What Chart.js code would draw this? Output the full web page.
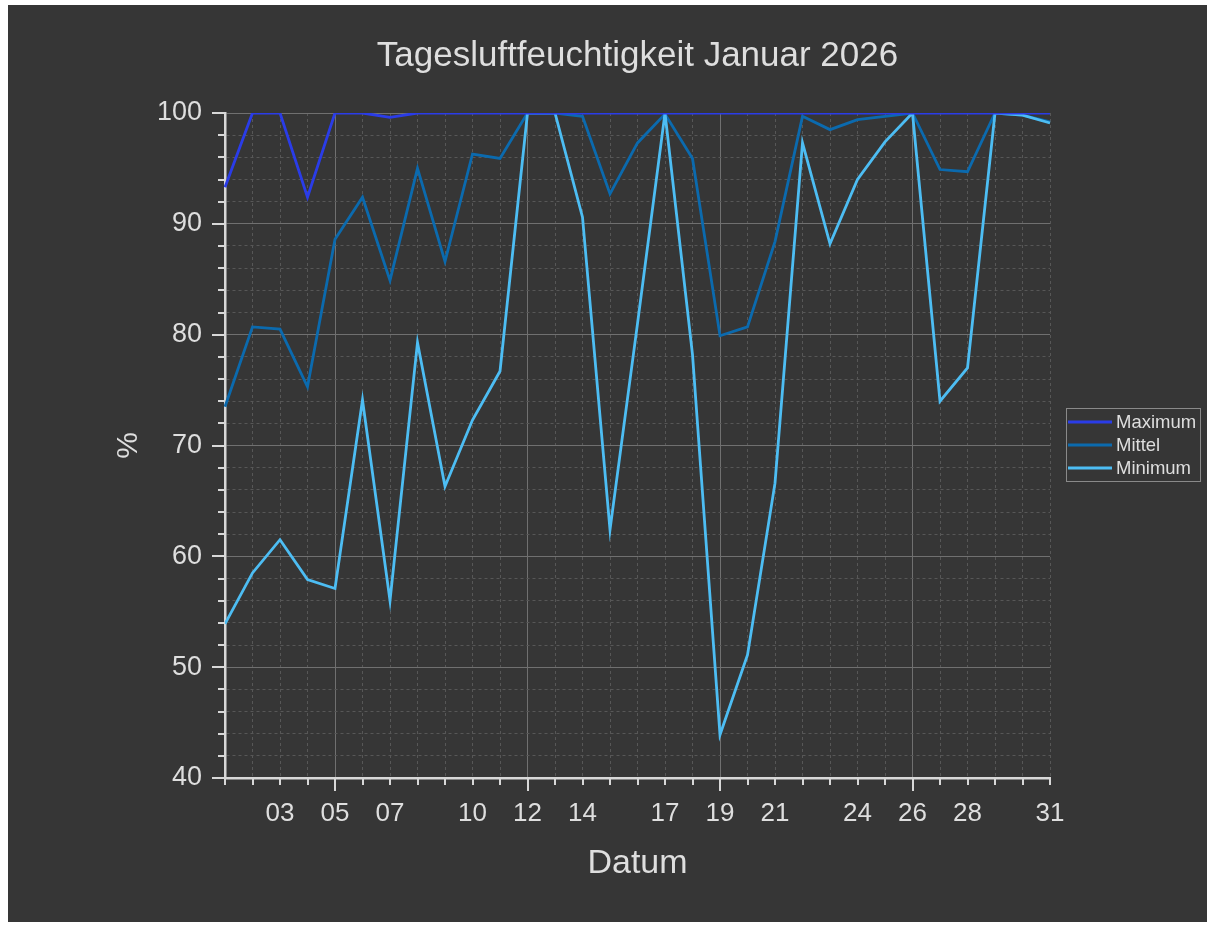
<!DOCTYPE html>
<html>
<head>
<meta charset="utf-8">
<script src="https://cdn.jsdelivr.net/npm/chart.js@4"></script>
<style>
  html, body { margin: 0; padding: 0; background: #ffffff; }
  #wrap { position: absolute; left: 8px; top: 5px; width: 1199px; height: 917px; background: #363636; }
</style>
</head>
<body>
<div id="wrap"><canvas id="humChart" width="1199" height="917"></canvas></div>
<script>
const days = ['01','02','03','04','05','06','07','08','09','10','11','12','13','14','15','16',
  '17','18','19','20','21','22','23','24','25','26','27','28','29','30','31'];
const shownDays = ['03','05','07','10','12','14','17','19','21','24','26','28','31'];
const majorDays = ['05','12','19','26'];

const maxData = [93.3, 100, 100, 92.4, 100, 100, 99.6, 100, 100, 100, 100, 100, 100, 100, 100, 100,
  100, 100, 100, 100, 100, 100, 100, 100, 100, 100, 100, 100, 100, 100, 100];
const meanData = [73.5, 80.7, 80.5, 75.3, 88.6, 92.4, 84.9, 95.0, 86.6, 96.3, 95.9, 100, 100, 99.7, 92.7, 97.3,
  99.9, 95.9, 79.9, 80.7, 88.4, 99.7, 98.5, 99.4, 99.7, 100, 94.9, 94.7, 100, 99.8, 99.2];
const minData = [53.9, 58.5, 61.5, 57.9, 57.1, 74.1, 56.0, 79.3, 66.3, 72.3, 76.7, 100, 100, 90.6, 62.4, 81.0,
  100, 78.2, 43.9, 51.1, 66.6, 97.3, 88.2, 94.0, 97.4, 100, 74.0, 77.0, 100, 99.8, 99.1];

const textColor = '#dedede';
const fontFam = '"Liberation Sans", Arial, sans-serif';

// tick marks (long for major, short for minor) + legend box
const extrasPlugin = {
  id: 'extras',
  afterDraw(chart) {
    const c = chart.ctx;
    const xs = chart.scales.x, ys = chart.scales.y;
    const area = chart.chartArea;
    c.save();
    c.strokeStyle = '#d8d8d8';
    c.lineWidth = 2;
    ys.ticks.forEach(t => {
      const py = Math.round(ys.getPixelForValue(t.value));
      const len = t.value % 10 === 0 ? 13 : 7;
      c.beginPath(); c.moveTo(area.left - len, py); c.lineTo(area.left, py); c.stroke();
    });
    days.forEach((d, i) => {
      const px = Math.round(xs.getPixelForTick(i));
      const len = majorDays.includes(d) ? 13 : 7;
      c.beginPath(); c.moveTo(px, area.bottom); c.lineTo(px, area.bottom + len); c.stroke();
    });

    // legend
    const bx = 1058, by = 403, bw = 134, bh = 73;
    c.strokeStyle = '#8a8a8a';
    c.lineWidth = 1;
    c.strokeRect(bx + 0.5, by + 0.5, bw, bh);
    c.font = '18.5px ' + fontFam;
    c.textBaseline = 'middle';
    c.fillStyle = textColor;
    chart.data.datasets.forEach((ds, i) => {
      const ly = by + 14 + i * 23;
      c.strokeStyle = ds.borderColor;
      c.lineWidth = 2.8;
      c.beginPath(); c.moveTo(bx + 2, ly); c.lineTo(bx + 46, ly); c.stroke();
      c.fillText(ds.label, bx + 50, ly + 1);
    });
    c.restore();
  }
};

new Chart(document.getElementById('humChart'), {
  type: 'line',
  data: {
    labels: days,
    datasets: [
      { label: 'Maximum', data: maxData, borderColor: '#2a3ce8', order: 0 },
      { label: 'Mittel', data: meanData, borderColor: '#0b6aae', order: 2 },
      { label: 'Minimum', data: minData, borderColor: '#4dbdf3', order: 1 }
    ]
  },
  options: {
    responsive: false,
    animation: false,
    layout: { padding: { left: 0, top: 0, right: 157, bottom: 0 } },
    elements: {
      line: { borderWidth: 2.8, tension: 0, fill: false },
      point: { radius: 0 }
    },
    plugins: {
      legend: { display: false },
      tooltip: { enabled: false },
      title: {
        display: true,
        text: 'Tagesluftfeuchtigkeit Januar 2026',
        color: textColor,
        fullSize: false,
        font: { family: fontFam, size: 35, weight: 'normal' },
        padding: { top: 30, bottom: 36 }
      }
    },
    scales: {
      x: {
        offset: false,
        afterFit: s => { s.height = 144; },
        ticks: {
          autoSkip: false,
          maxRotation: 0,
          color: textColor,
          padding: 20,
          font: { family: fontFam, size: 26 },
          callback: (v, i) => shownDays.includes(days[i]) ? days[i] : ''
        },
        grid: {
          drawTicks: false,
          color: c => majorDays.includes(days[c.index]) ? '#707070' : '#575757',
          lineWidth: 1
        },
        border: {
          color: '#d8d8d8',
          width: 2.5,
          dash: c => (c.tick && !majorDays.includes(days[c.index])) ? [3, 3] : []
        },
        title: {
          display: true,
          text: 'Datum',
          color: textColor,
          font: { family: fontFam, size: 34 },
          padding: { top: 10, bottom: 38 }
        }
      },
      y: {
        min: 40,
        max: 100,
        afterFit: s => { s.width = 217; },
        ticks: {
          stepSize: 2,
          autoSkip: false,
          maxTicksLimit: 100,
          color: textColor,
          padding: 23,
          font: { family: fontFam, size: 27 },
          callback: v => v % 10 === 0 ? v : ''
        },
        grid: {
          drawTicks: false,
          color: c => (c.tick && c.tick.value % 10 === 0) ? '#707070' : '#575757',
          lineWidth: 1
        },
        border: {
          color: '#d8d8d8',
          width: 2.5,
          dash: c => (c.tick && c.tick.value % 10 !== 0) ? [3, 3] : []
        },
        title: {
          display: true,
          text: '%',
          color: textColor,
          font: { family: fontFam, size: 30 },
          padding: { top: 103, bottom: 0 }
        }
      }
    }
  },
  plugins: [extrasPlugin]
});
</script>
</body>
</html>
